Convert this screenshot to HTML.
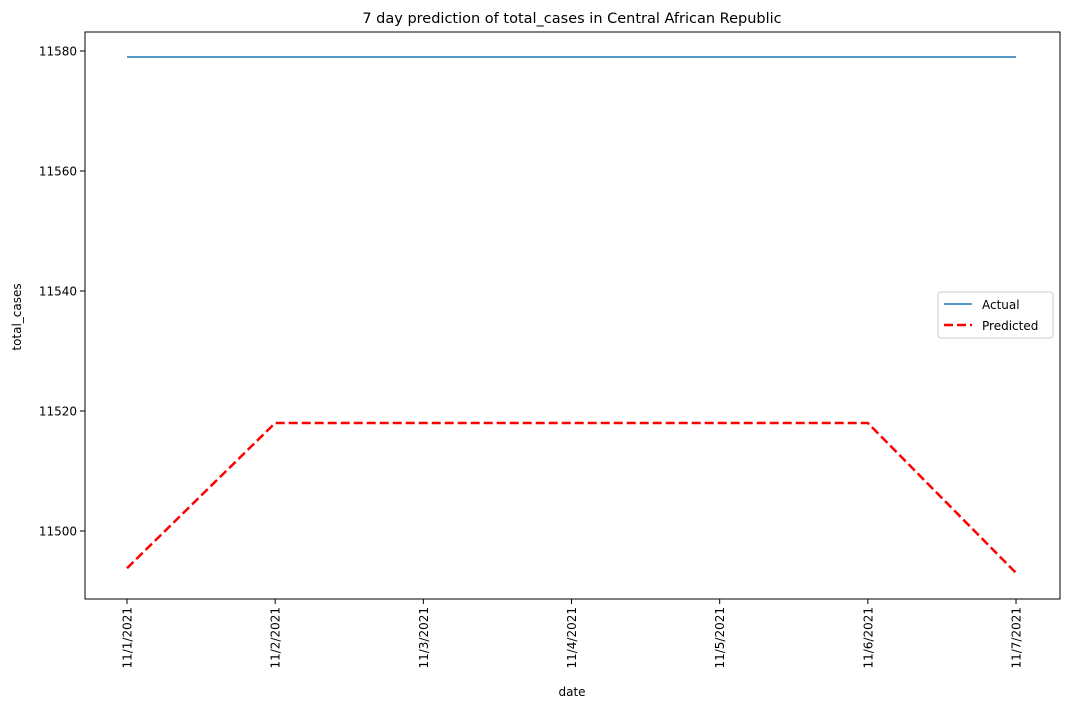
<!DOCTYPE html>
<html><head><meta charset="utf-8"><style>
body{margin:0;background:#fff;font-family:"DejaVu Sans",sans-serif;}
</style></head><body>
<svg width="1070" height="709" font-family="DejaVu Sans, sans-serif">
<rect width="1070" height="709" fill="#fff"/>
<text x="572" y="23" text-anchor="middle" font-size="14.5">7 day prediction of total_cases in Central African Republic</text>
<rect x="85" y="32" width="975" height="567" fill="none" stroke="#000" stroke-width="1"/>
<g id="yaxis"></g><g id="xaxis"></g><g id="series"></g>
<text x="572" y="696" text-anchor="middle" font-size="12">date</text>
<text transform="translate(21,317) rotate(-90)" text-anchor="middle" font-size="12">total_cases</text>
<g>
<rect x="938" y="292" width="115" height="46" rx="3" fill="#fff" stroke="#ccc"/>
<line x1="944" y1="304" x2="972" y2="304" stroke="#1f77b4" stroke-width="1.5"/>
<text x="982" y="309" font-size="12">Actual</text>
<line x1="944" y1="325" x2="972" y2="325" stroke="red" stroke-width="2.5" stroke-dasharray="9,4"/>
<text x="982" y="330" font-size="12">Predicted</text>
</g>
</svg>
<script>
const dates=["11/1/2021","11/2/2021","11/3/2021","11/4/2021","11/5/2021","11/6/2021","11/7/2021"];
const actual=[11579,11579,11579,11579,11579,11579,11579];
const predicted=[11493.8,11518,11518,11518,11518,11518,11493];
const yTicks=[11500,11520,11540,11560,11580];
const NS="http://www.w3.org/2000/svg";
function x(i){return 127+i*148.17;}
function y(v){return 531-(v-11500)*6;}
function mk(t,a,p){const e=document.createElementNS(NS,t);for(const k in a)e.setAttribute(k,a[k]);p.appendChild(e);return e;}
const ya=document.getElementById('yaxis'),xa=document.getElementById('xaxis'),se=document.getElementById('series');
yTicks.forEach(v=>{
 const l=mk('line',{x1:80,x2:85,y1:y(v),y2:y(v),stroke:'#000'},ya);
 
 
 const t=mk('text',{x:77,y:y(v)+4.5,'text-anchor':'end','font-size':12},ya);t.textContent=v;
 
 
});
dates.forEach((d,i)=>{
 const l=mk('line',{x1:x(i),x2:x(i),y1:599,y2:604,stroke:'#000'},xa);
 
 
 const t=mk('text',{transform:`translate(${x(i)+4.5},607) rotate(-90)`,'text-anchor':'end','font-size':12},xa);t.textContent=d;
 
 
});
const a=mk('polyline',{points:actual.map((v,i)=>x(i)+','+y(v)).join(' '),fill:'none',stroke:'#1f77b4','stroke-width':1.5},se);


const p=mk('polyline',{points:predicted.map((v,i)=>x(i)+','+y(v)).join(' '),fill:'none',stroke:'red','stroke-width':2.5,'stroke-dasharray':'9,4'},se);


</script>
</body></html>
